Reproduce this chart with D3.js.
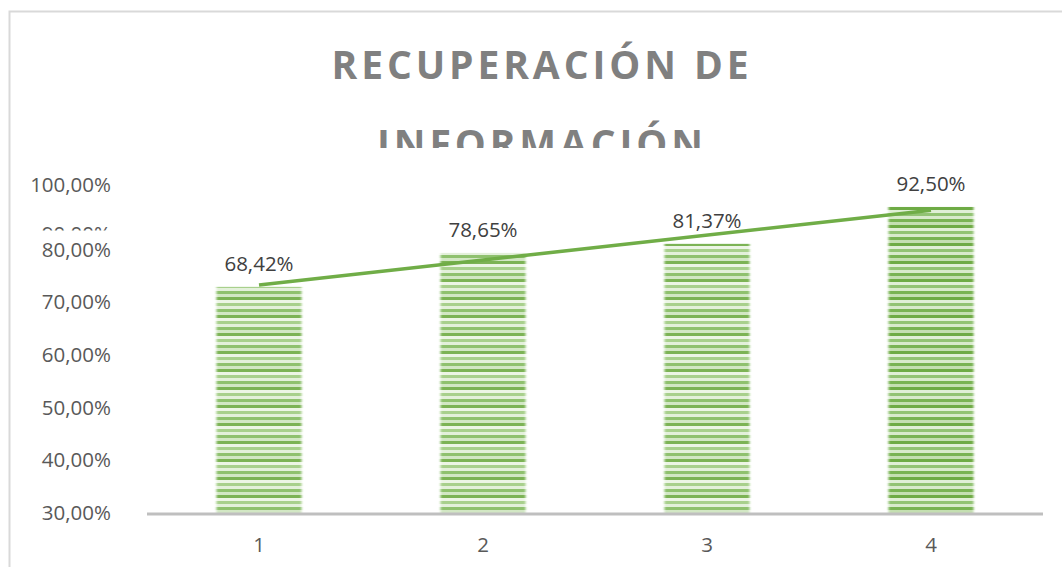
<!DOCTYPE html>
<html>
<head>
<meta charset="utf-8">
<script src="https://cdn.jsdelivr.net/npm/d3@7"></script>
<style>
  html, body { margin: 0; padding: 0; background: #fff; }
  svg { display: block; }
</style>
</head>
<body>
<div id="chart"></div>
<script>
// datos
var categories = ['1', '2', '3', '4'];
var values = [0.6842, 0.7865, 0.8137, 0.9250];
var valueLabels = ['68,42%', '78,65%', '81,37%', '92,50%'];
var tickValues = [0.3, 0.4, 0.5, 0.6, 0.7, 0.8, 0.9, 1.0];
var tickLabels = ['30,00%', '40,00%', '50,00%', '60,00%', '70,00%', '80,00%', '90,00%', '100,00%'];
var titleLines = ['RECUPERACIÓN DE', 'INFORMACIÓN'];

var width = 1062,
    height = 567;

var svg = d3.select('#chart')
    .append('svg')
    .attr('width', width)
    .attr('height', height)
    .style('font-family', '"Open Sans", sans-serif');

svg.append('rect').attr('width', width).attr('height', height).attr('fill', '#fff');

// borde del gráfico
svg.append('path')
    .attr('d', 'M9.5,' + height + 'V11.5H' + width)
    .attr('fill', 'none')
    .attr('stroke', '#d9d9d9')
    .attr('stroke-width', 2);

var defs = svg.append('defs');

// patrón de rayas horizontales
function stripePattern(id, rows) {
    var p = defs.append('pattern')
        .attr('id', id)
        .attr('patternUnits', 'userSpaceOnUse')
        .attr('width', 8)
        .attr('height', rows.length * 3);
    rows.forEach(function (c, i) {
        p.append('rect').attr('x', 0).attr('y', i * 3).attr('width', 8).attr('height', 3).attr('fill', c);
    });
}
stripePattern('stripes', ['#e3f0da', '#8fc16e', '#d2e7c4', '#7bb354', '#ecf5e5', '#a8d08c']);
stripePattern('stripes2', ['#d8eacb', '#79b353', '#c4dfb1', '#6eab45', '#e0efd6', '#92c373']);

var blur = defs.append('filter').attr('id', 'soft').attr('x', '-5%').attr('width', '110%');
blur.append('feGaussianBlur').attr('stdDeviation', '1.3 0.6');

defs.append('clipPath').attr('id', 'clipTitle')
    .append('rect').attr('x', 0).attr('y', 0).attr('width', width).attr('height', 148);
// el 90% sale cortado en la imagen (coordenadas locales del tick)
defs.append('clipPath').attr('id', 'clip90')
    .append('rect').attr('x', -200).attr('y', -100).attr('width', 300).attr('height', 97);

// título
var titleY = [79, 158];
var titleW = [417, 326];
svg.selectAll('.title')
    .data(titleLines)
    .enter()
    .append('text')
    .attr('class', 'title')
    .attr('x', (d, i) => 540 - titleW[i] / 2)
    .attr('y', (d, i) => titleY[i])
    .attr('textLength', (d, i) => titleW[i])
    .attr('lengthAdjust', 'spacing')
    .attr('clip-path', (d, i) => i == 1 ? 'url(#clipTitle)' : null)
    .attr('font-size', 39)
    .attr('font-weight', 'bold')
    .attr('fill', '#808080')
    .text(d => d);

// escalas
var x = d3.scaleBand()
    .domain(categories)
    .range([147, 1043])
    .paddingInner(0.62)
    .paddingOuter(0.31);

var y = d3.scaleLinear()
    .domain([0, 1])
    .range([514, 182]);

// las etiquetas del eje están colocadas así en la imagen
var yTicks = d3.scaleLinear()
    .domain([0.3, 0.8, 0.9, 1.0])
    .range([512, 249, 233, 184]);

var yAxis = svg.append('g')
    .attr('transform', 'translate(111,0)')
    .call(d3.axisLeft(yTicks).tickValues(tickValues).tickFormat((d, i) => tickLabels[i]).tickSize(0).tickPadding(0));
yAxis.select('.domain').remove();
yAxis.selectAll('text')
    .attr('font-family', '"Open Sans", sans-serif')
    .attr('font-size', 20.5)
    .attr('fill', '#595959')
    .attr('dy', '0.36em');
yAxis.selectAll('.tick').filter(d => d == 0.9).select('text').attr('clip-path', 'url(#clip90)');

// barras
svg.append('g')
    .selectAll('rect')
    .data(values)
    .enter()
    .append('rect')
    .attr('x', (d, i) => x(categories[i]))
    .attr('y', d => y(d))
    .attr('width', x.bandwidth())
    .attr('height', d => y(0) - y(d))
    .attr('fill', (d, i) => i == 3 ? 'url(#stripes2)' : 'url(#stripes)')
    .attr('filter', 'url(#soft)');

// eje x
svg.append('line')
    .attr('x1', x.range()[0])
    .attr('x2', x.range()[1])
    .attr('y1', y(0))
    .attr('y2', y(0))
    .attr('stroke', '#bfbfbf')
    .attr('stroke-width', 3);

svg.append('g')
    .selectAll('text')
    .data(categories)
    .enter()
    .append('text')
    .attr('x', d => x(d) + x.bandwidth() / 2)
    .attr('y', 545)
    .attr('dy', '0.36em')
    .attr('text-anchor', 'middle')
    .attr('font-size', 20.5)
    .attr('fill', '#595959')
    .text(d => d);

// línea de tendencia (lineal)
var xs = values.map((d, i) => i + 1);
var mx = d3.mean(xs), my = d3.mean(values);
var slope = d3.sum(xs, (v, i) => (v - mx) * (values[i] - my)) / d3.sum(xs, v => (v - mx) * (v - mx));
var icpt = my - slope * mx;
var trend = [1, categories.length].map(k => [k, icpt + slope * k]);

svg.append('path')
    .datum(trend)
    .attr('fill', 'none')
    .attr('stroke', '#70ad47')
    .attr('stroke-width', 3.5)
    .attr('d', d3.line()
        .x(d => x(categories[d[0] - 1]) + x.bandwidth() / 2)
        .y(d => y(d[1])));

// etiquetas de datos
svg.append('g')
    .selectAll('text')
    .data(values)
    .enter()
    .append('text')
    .attr('x', (d, i) => x(categories[i]) + x.bandwidth() / 2)
    .attr('y', d => y(d) - 23)
    .attr('dy', '0.36em')
    .attr('text-anchor', 'middle')
    .attr('font-size', 20.5)
    .attr('fill', '#404040')
    .text((d, i) => valueLabels[i]);
</script>
</body>
</html>
